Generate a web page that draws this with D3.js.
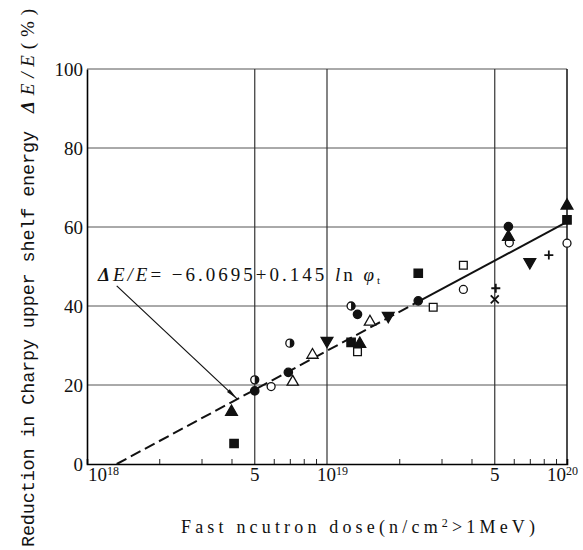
<!DOCTYPE html>
<html>
<head>
<meta charset="utf-8">
<script src="https://cdn.jsdelivr.net/npm/d3@7"></script>
<style>
  body { margin: 0; background: #fff; }
  svg { display: block; }
</style>
</head>
<body>
<svg width="583" height="550"></svg>
<script>
// Data: dose (n/cm2) and reduction in upper shelf energy (%)
const filledCircleDose = [5.0e18, 6.9e18, 1.34e19, 2.4e19, 5.7e19];
const filledCircleVal = [18.5, 23.2, 37.9, 41.3, 60.1];
const openCircleDose = [5.85e18, 3.7e19, 5.75e19, 1.0e20];
const openCircleVal = [19.6, 44.2, 56.0, 55.9];
const halfCircleDose = [5.0e18, 7.0e18, 1.26e19];
const halfCircleVal = [21.3, 30.6, 40.0];
const filledSquareDose = [4.1e18, 1.26e19, 2.4e19, 1.0e20];
const filledSquareVal = [5.2, 30.8, 48.3, 61.8];
const openSquareDose = [1.34e19, 2.77e19, 3.7e19];
const openSquareVal = [28.4, 39.7, 50.3];
const filledTriDose = [4.0e18, 1.37e19, 5.7e19, 1.0e20];
const filledTriVal = [13.2, 30.4, 57.5, 65.4];
const openTriDose = [7.2e18, 8.7e18, 1.51e19];
const openTriVal = [20.8, 27.6, 36.0];
const downTriDose = [1.0e19, 1.8e19, 7.0e19];
const downTriVal = [31.2, 37.5, 51.1];
const plusDose = [5.05e19, 8.4e19];
const plusVal = [44.5, 52.9];
const crossDose = [5.0e19];
const crossVal = [41.7];

// regression line (dashed part, then solid part)
const fitDashedDose = [1.33e18, 2.4e19];
const fitDashedVal = [0, 41.1];
const fitSolidDose = [2.4e19, 1.0e20];
const fitSolidVal = [41.1, 61.3];

// axis ticks
const yTicks = [0, 20, 40, 60, 80, 100];
const gridY = [20, 40, 60, 80, 100];
const decadeTicks = [1e18, 1e19, 1e20];
const decadeExp = ["18", "19", "20"];
const fiveTicks = [5e18, 5e19];
const minorTicks = [2e18, 3e18, 4e18, 6e18, 7e18, 8e18, 9e18,
                    2e19, 3e19, 4e19, 6e19, 7e19, 8e19, 9e19];

// annotation: label anchor and arrow tip (data units)
const labelStart = [1.33e18, 45.1];
const arrowTip = [4.22e18, 16.5];

const svg = d3.select("svg");
const serif = "'Liberation Serif', 'DejaVu Serif', serif";

const x = d3.scaleLog().domain([1e18, 1e20]).range([87, 567]);
const y = d3.scaleLinear().domain([0, 100]).range([464, 69]);

// grid lines
svg.append("g").selectAll("line")
  .data(gridY)
  .enter()
  .append("line")
  .attr("x1", x(1e18)).attr("x2", x(1e20))
  .attr("y1", (d) => y(d)).attr("y2", (d) => y(d))
  .attr("stroke", "#555")
  .attr("stroke-width", 1);

svg.append("g").selectAll("line")
  .data(fiveTicks.concat([1e19]))
  .enter()
  .append("line")
  .attr("x1", (d) => x(d)).attr("x2", (d) => x(d))
  .attr("y1", y(0)).attr("y2", y(100))
  .attr("stroke", "#333")
  .attr("stroke-width", 1.2);

// right border
svg.append("line")
  .attr("x1", x(1e20)).attr("x2", x(1e20))
  .attr("y1", y(0)).attr("y2", y(100))
  .attr("stroke", "#111").attr("stroke-width", 1.5);

// axes
const xAxis = d3.axisBottom(x).tickValues(minorTicks).tickSize(-5).tickFormat("");
svg.append("g")
  .attr("transform", `translate(0,${y(0)})`)
  .call(xAxis)
  .call((g) => g.select(".domain").attr("stroke-width", 1.6))
  .call((g) => g.selectAll(".tick line").attr("stroke", "#222"));

const yAxis = d3.axisLeft(y).tickValues(yTicks).tickSize(0).tickPadding(4);
svg.append("g")
  .attr("transform", `translate(${x(1e18)},0)`)
  .call(yAxis)
  .call((g) => g.select(".domain").attr("stroke-width", 1.6))
  .call((g) => g.selectAll("text")
    .attr("font-family", serif)
    .attr("font-size", 19)
    .attr("fill", "#111"));

// x tick labels
const xLab = svg.append("g").attr("font-family", serif).attr("fill", "#111");
decadeTicks.forEach((d, i) => {
  const dx = i === 0 ? 1 : i === decadeTicks.length - 1 ? -20 : -10;
  const t = xLab.append("text")
    .attr("x", x(d) + dx)
    .attr("y", 481)
    .attr("font-size", 19)
    .text("10");
  t.append("tspan").attr("dy", -6).attr("font-size", 12).text(decadeExp[i]);
});
fiveTicks.forEach((d) => {
  xLab.append("text")
    .attr("x", x(d))
    .attr("y", 481)
    .attr("text-anchor", "middle")
    .attr("font-size", 19)
    .text("5");
});

// regression line
const line = d3.line().x((d) => x(d[0])).y((d) => y(d[1]));
svg.append("path")
  .datum(d3.zip(fitDashedDose, fitDashedVal))
  .attr("d", line)
  .attr("fill", "none").attr("stroke", "#111")
  .attr("stroke-width", 2).attr("stroke-dasharray", "11,5");
svg.append("path")
  .datum(d3.zip(fitSolidDose, fitSolidVal))
  .attr("d", line)
  .attr("fill", "none").attr("stroke", "#111")
  .attr("stroke-width", 2);

// markers
function plot(doses, vals, shape, fill) {
  const sym = d3.symbol().type(shape.type).size(shape.size);
  svg.append("g").selectAll("path")
    .data(d3.zip(doses, vals))
    .enter()
    .append("path")
    .attr("transform", (d) => `translate(${x(d[0])},${y(d[1])})${shape.rot || ""}`)
    .attr("d", sym)
    .attr("fill", fill ? "#111" : "#fff")
    .attr("stroke", "#111")
    .attr("stroke-width", shape.sw || 1.3);
}

plot(openCircleDose, openCircleVal, { type: d3.symbolCircle, size: 50 }, false);
plot(filledCircleDose, filledCircleVal, { type: d3.symbolCircle, size: 55 }, true);
plot(filledSquareDose, filledSquareVal, { type: d3.symbolSquare, size: 70 }, true);
plot(openSquareDose, openSquareVal, { type: d3.symbolSquare, size: 60 }, false);
plot(filledTriDose, filledTriVal, { type: d3.symbolTriangle, size: 60 }, true);
plot(openTriDose, openTriVal, { type: d3.symbolTriangle, size: 55 }, false);
plot(downTriDose, downTriVal, { type: d3.symbolTriangle, size: 60, rot: " rotate(180)" }, true);
plot(plusDose, plusVal, { type: d3.symbolCross, size: 0, sw: 1.6 }, true);

// plus and cross drawn as strokes
svg.append("g").selectAll("path")
  .data(d3.zip(plusDose, plusVal))
  .enter()
  .append("path")
  .attr("d", (d) => `M${x(d[0]) - 4.5},${y(d[1])}h9M${x(d[0])},${y(d[1]) - 4.5}v9`)
  .attr("stroke", "#111").attr("stroke-width", 1.8);
svg.append("g").selectAll("path")
  .data(d3.zip(crossDose, crossVal))
  .enter()
  .append("path")
  .attr("d", (d) => `M${x(d[0]) - 4},${y(d[1]) - 4}l8,8M${x(d[0]) + 4},${y(d[1]) - 4}l-8,8`)
  .attr("stroke", "#111").attr("stroke-width", 1.8);

// half-filled circles
const half = svg.append("g").selectAll("g")
  .data(d3.zip(halfCircleDose, halfCircleVal))
  .enter()
  .append("g")
  .attr("transform", (d) => `translate(${x(d[0])},${y(d[1])})`);
half.append("circle").attr("r", 4).attr("fill", "#fff").attr("stroke", "#111").attr("stroke-width", 1.3);
half.append("path").attr("d", "M0,-4A4,4 0 0 1 0,4Z").attr("fill", "#111");

// annotation leader with narrow arrowhead
svg.append("defs").append("marker")
  .attr("id", "arr")
  .attr("viewBox", "0 0 12 6")
  .attr("refX", 12).attr("refY", 3)
  .attr("markerWidth", 12).attr("markerHeight", 6)
  .attr("markerUnits", "userSpaceOnUse")
  .attr("orient", "auto")
  .append("path")
  .attr("d", "M0,1L12,3L0,5Z")
  .attr("fill", "#111");

svg.append("line")
  .attr("x1", x(labelStart[0])).attr("y1", y(labelStart[1]) + 0)
  .attr("x2", x(arrowTip[0])).attr("y2", y(arrowTip[1]))
  .attr("stroke", "#111").attr("stroke-width", 1.2)
  .attr("marker-end", "url(#arr)");

const eq = svg.append("text")
  .attr("x", 98).attr("y", 281)
  .attr("font-family", serif)
  .attr("font-size", 19)
  .attr("fill", "#111")
  .attr("textLength", 282)
  .attr("lengthAdjust", "spacing");
eq.append("tspan").attr("font-weight", "bold").attr("font-style", "italic").text("Δ");
eq.append("tspan").attr("font-style", "italic").text("E/E");
eq.append("tspan").text("= −6.0695+0.145 ");
eq.append("tspan").attr("font-style", "italic").text("l");
eq.append("tspan").text("n ");
eq.append("tspan").attr("font-style", "italic").text("φ");
eq.append("tspan").attr("font-size", 11).attr("dy", 3).text("t");

// axis titles
svg.append("text")
  .attr("x", 181).attr("y", 533)
  .attr("font-family", serif)
  .attr("font-size", 18)
  .attr("fill", "#111")
  .attr("textLength", 354)
  .attr("lengthAdjust", "spacing")
  .text("Fast ncutron dose(n/cm")
  .append("tspan").attr("font-size", 12).attr("dy", -6).text("2")
  .select(function () { return this.parentNode; })
  .append("tspan").attr("dy", 6).text(">1MeV)");

svg.append("text")
  .attr("transform", "translate(34,547) rotate(-90)")
  .attr("font-family", "'Liberation Mono', 'DejaVu Sans Mono', monospace")
  .attr("font-size", 18.5)
  .attr("fill", "#111")
  .attr("textLength", 416)
  .attr("lengthAdjust", "spacing")
  .text("Reduction in Charpy upper shelf energy");

const yt = svg.append("text")
  .attr("transform", "translate(34,113) rotate(-90)")
  .attr("font-family", serif)
  .attr("font-size", 19)
  .attr("fill", "#111")
  .attr("textLength", 104)
  .attr("lengthAdjust", "spacing");
yt.append("tspan").attr("font-weight", "bold").attr("font-style", "italic").text("Δ");
yt.append("tspan").attr("font-style", "italic").text("E/E");
yt.append("tspan").text("(%)");
</script>
</body>
</html>
